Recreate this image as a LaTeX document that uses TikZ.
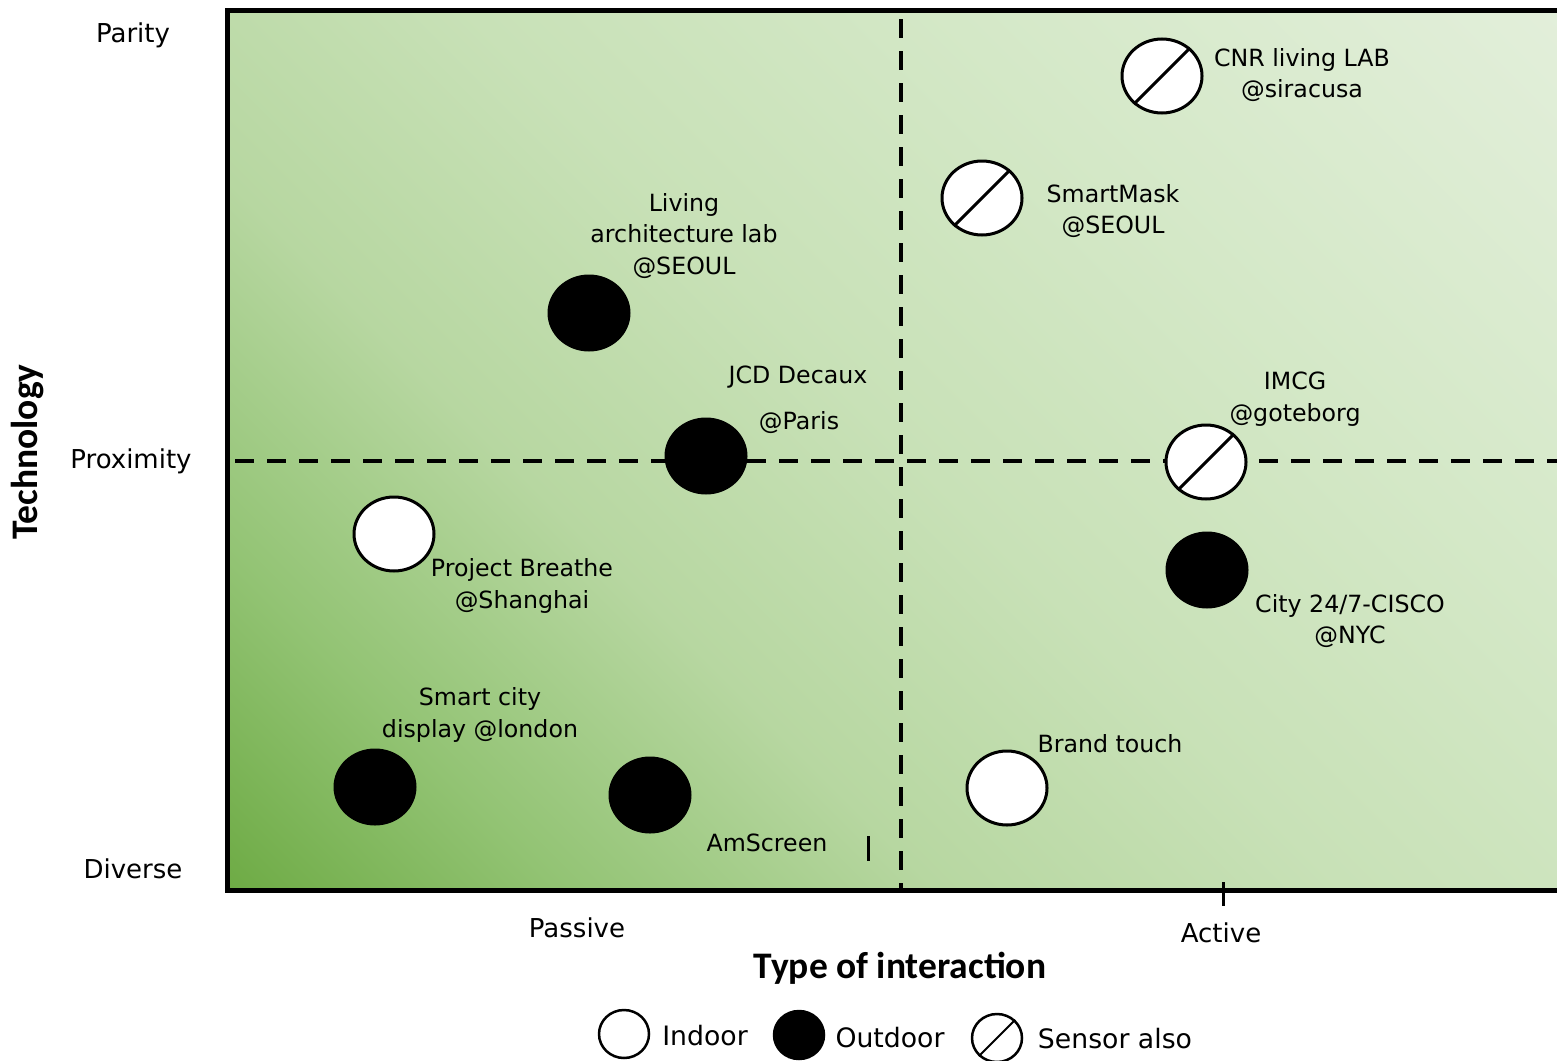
\documentclass[tikz,border=0pt]{standalone}
\usepackage{fontspec}
\setmainfont{DejaVu Sans}
\newfontfamily\titlefont{Carlito}
\usetikzlibrary{shapes.geometric}
\definecolor{gdark}{HTML}{6EAB45}
\definecolor{gmidA}{HTML}{92C373}
\definecolor{gmidB}{HTML}{B7D7A1}
\definecolor{gmidC}{HTML}{C8E1B7}
\definecolor{gmidD}{HTML}{D4E8C7}
\definecolor{glight}{HTML}{E3EFDB}
\pgfdeclarehorizontalshading{bgshade}{100bp}{color(0bp)=(gdark); color(14.6bp)=(gdark); color(25bp)=(gmidA); color(37bp)=(gmidB); color(50bp)=(gmidC); color(65bp)=(gmidD); color(85.4bp)=(glight); color(100bp)=(glight)}
\tikzset{
  spot/.style={ellipse, minimum width=80pt, minimum height=74pt, inner sep=0pt, line width=3pt, draw=black},
  outdoor/.style={spot, fill=black},
  indoor/.style={spot, fill=white},
  sensor/.style={spot, fill=white},
  lgspot/.style={ellipse, minimum width=50pt, minimum height=48pt, inner sep=0pt, line width=2.5pt, draw=black},
  lbl/.style={font=\fontsize{23.7}{31.5}\selectfont, align=center, inner sep=0pt},
  axlbl/.style={font=\fontsize{26}{31}\selectfont, inner sep=0pt},
  lglbl/.style={font=\fontsize{26.7}{31}\selectfont, inner sep=0pt},
  title/.style={font=\titlefont\bfseries\fontsize{37.5}{42}\selectfont, inner sep=0pt},
  divider/.style={line width=4.5pt, dash pattern=on 19pt off 13pt},
  tickline/.style={line width=3pt}
}
\begin{document}
\begin{tikzpicture}[x=1pt,y=-1pt]
\useasboundingbox (0,0) rectangle (1557,1060);
% background gradient
\shade[shading=bgshade, shading angle=45] (227,10) rectangle (1590,890);
% frame
\draw[line width=5pt] (1600,10) -- (227,10) -- (227,890) -- (1600,890);
% dividers
\coordinate (hl) at (235,461);
\coordinate (hr) at (1557,461);
\coordinate (vt) at (901,19);
\coordinate (vb) at (901,892);
\draw[divider] (hl) -- (hr);
\draw[divider] (vt) -- (vb);
% ticks
\coordinate (t1a) at (1223,882);
\coordinate (t1b) at (1223,906);
\draw[tickline] (t1a) -- (t1b);
\coordinate (t2a) at (868,836);
\coordinate (t2b) at (868,861);
\draw[tickline] (t2a) -- (t2b);
% axis labels
\node[axlbl] (parity) at (133,35) {Parity};
\node[axlbl] (prox) at (131,461) {Proximity};
\node[axlbl] (diverse) at (133,869) {Diverse};
\node[axlbl] (passive) at (577,928) {Passive};
\node[axlbl] (active) at (1221,933) {Active};
\node[title, rotate=90] (tech) at (28,452) {Technology};
\node[title] (toi) at (900,968) {Type of interaction};
% markers
\node[outdoor] (lal) at (589,313) {};
\node[outdoor] (jcd) at (706,456) {};
\node[indoor] (pb) at (394,534) {};
\node[outdoor] (scd) at (375,787) {};
\node[outdoor] (ams) at (650,795) {};
\node[sensor] (cnr) at (1162,76) {};
\draw[line width=3pt] (cnr.225) -- (cnr.45);
\node[sensor] (sm) at (982,198) {};
\draw[line width=3pt] (sm.225) -- (sm.45);
\node[sensor] (imcg) at (1206,462) {};
\draw[line width=3pt] (imcg.225) -- (imcg.45);
\node[outdoor] (city) at (1207,570) {};
\node[indoor] (bt) at (1007,788) {};
% labels
\node[lbl] (lall) at (684,236) {Living\\architecture lab\\@SEOUL};
\node[lbl] (jcdl1) at (798,377) {JCD Decaux};
\node[lbl] (jcdl2) at (799,423) {@Paris};
\node[lbl] (pbl) at (522,586) {Project Breathe\\@Shanghai};
\node[lbl] (scdl) at (480,715) {Smart city\\display @london};
\node[lbl] (amsl) at (767,843) {AmScreen};
\node[lbl] (cnrl) at (1302,75) {CNR living LAB\\@siracusa};
\node[lbl] (sml) at (1113,211) {SmartMask\\@SEOUL};
\node[lbl] (imcgl) at (1295,399) {IMCG\\@goteborg};
\node[lbl] (cityl) at (1350,621) {City 24/7-CISCO\\@NYC};
\node[lbl] (btl) at (1110,744) {Brand touch};
% legend
\node[lgspot, fill=white] (lgin) at (624,1034) {};
\node[lglbl] (lgint) at (705,1036) {Indoor};
\node[lgspot, fill=black] (lgout) at (799,1035) {};
\node[lglbl] (lgoutt) at (890,1038) {Outdoor};
\node[lgspot, fill=white] (lgsen) at (997,1038) {};
\draw[line width=2pt] (lgsen.225) -- (lgsen.45);
\node[lglbl] (lgsent) at (1115,1039) {Sensor also};
\end{tikzpicture}
\end{document}
